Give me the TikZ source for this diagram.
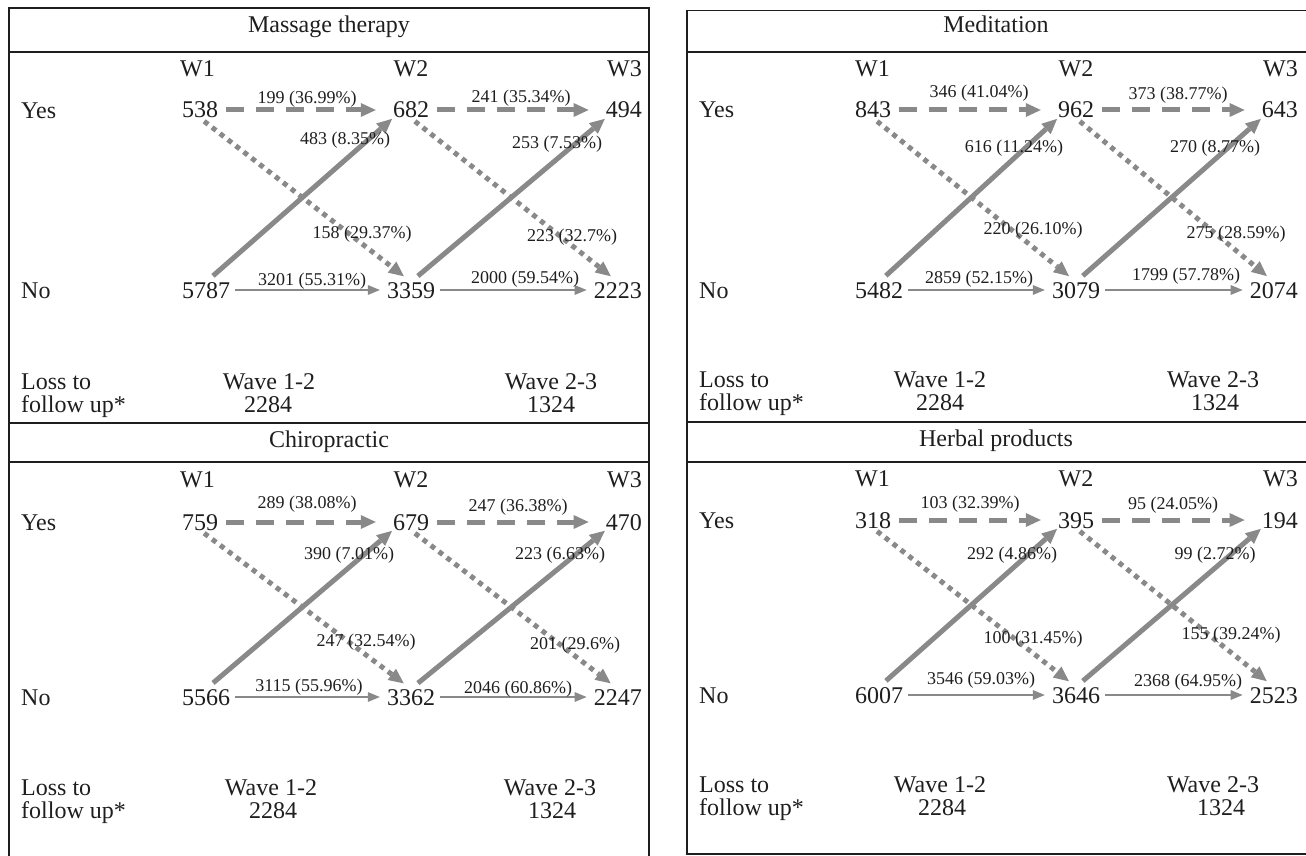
\documentclass[tikz,border=0pt]{standalone}
\usepackage{fontspec}
\setmainfont{Liberation Serif}
\usetikzlibrary{arrows.meta,calc}
\definecolor{arrowgray}{RGB}{137,137,137}
\definecolor{ink}{RGB}{30,30,30}
\tikzset{
  big/.style={font=\fontsize{24}{22}\selectfont, inner sep=0pt, text=ink, text height=16pt, text depth=0pt},
  lab/.style={font=\fontsize{18}{20}\selectfont, inner sep=0pt, text=ink, text height=12pt, text depth=0pt},
  frame/.style={line width=1.5pt, draw=ink},
  bigtip/.style={-{Triangle[length=15pt,width=14pt,line width=0pt]}},
  yy/.style={draw=arrowgray, line width=5pt, dash pattern=on 18pt off 12pt, bigtip, shorten <=8pt, shorten >=17pt},
  yn/.style={draw=arrowgray, line width=5pt, dash pattern=on 5pt off 5pt, bigtip, shorten <=5pt, shorten >=9pt},
  ny/.style={draw=arrowgray, line width=5pt, bigtip, shorten <=9pt, shorten >=1pt},
  nn/.style={draw=arrowgray, line width=2pt, -{Triangle[length=12pt,width=10pt,line width=0pt]}, shorten <=5pt, shorten >=7pt},
}
\begin{document}
\begin{tikzpicture}[x=1pt,y=-1pt]
\useasboundingbox (0,0) rectangle (1306,856);
% ---------- frames ----------
\draw[frame] (649,856) -- (649,8) -- (9,8) -- (9,856);
\draw[frame] (9,52) -- (649,52);
\draw[frame] (9,423) -- (649,423);
\draw[frame] (9,462) -- (649,462);
\draw[frame] (1306,10.5) -- (687,10.5) -- (687,854) -- (1306,854);
\draw[frame] (687,52) -- (1306,52);
\draw[frame] (687,422) -- (1306,422);
\draw[frame] (687,462) -- (1306,462);

% ================= Massage therapy =================
\node[big] (mT) at (329,25) {Massage therapy};
\node[big, anchor=west] (mW1) at (180,69) {W1};
\node[big] (mW2) at (411,69) {W2};
\node[big, anchor=east] (mW3) at (642,69) {W3};
\node[big, anchor=west] (mYes) at (21,111) {Yes};
\node[big, anchor=west] (mNo) at (21,290) {No};
\node[big, anchor=west] (m538) at (182,110) {538};
\node[big] (m682) at (411,110) {682};
\node[big, anchor=east] (m494) at (642,110) {494};
\node[big, anchor=west] (m5787) at (182,290) {5787};
\node[big] (m3359) at (411,290) {3359};
\node[big, anchor=east] (m2223) at (642,290) {2223};
\draw[yn] (m538.south) -- (m3359.north);
\draw[yn] (m682.south) -- (m2223.north);
\draw[ny] (m5787.north) -- (m682.south west);
\draw[ny] (m3359.north) -- (m494.south west);
\draw[yy] (m538.east) -- (m682.west);
\draw[yy] (m682.east) -- (m494.west);
\draw[nn] (m5787.east) -- (m3359.west);
\draw[nn] (m3359.east) -- (m2223.west);
\node[lab] (mL1) at (307,98) {199 (36.99\%)};
\node[lab] (mL2) at (521,97) {241 (35.34\%)};
\node[lab] (mL3) at (345,138) {483 (8.35\%)};
\node[lab] (mL4) at (557,142) {253 (7.53\%)};
\node[lab] (mL5) at (362,232) {158 (29.37\%)};
\node[lab] (mL6) at (572,235) {223 (32.7\%)};
\node[lab] (mL7) at (312,279) {3201 (55.31\%)};
\node[lab] (mL8) at (525,277) {2000 (59.54\%)};
\node[big, anchor=west] (mLa) at (21,381) {Loss to};
\node[big, anchor=west] (mLb) at (21,404) {follow up*};
\node[big] (mWa) at (269,381) {Wave 1-2};
\node[big] (mWb) at (268,404) {2284};
\node[big] (mWc) at (551,381) {Wave 2-3};
\node[big] (mWd) at (551,404) {1324};

% ================= Meditation =================
\node[big] (dT) at (996,25) {Meditation};
\node[big, anchor=west] (dW1) at (855,69) {W1};
\node[big] (dW2) at (1076,69) {W2};
\node[big, anchor=east] (dW3) at (1298,69) {W3};
\node[big, anchor=west] (dYes) at (699,110) {Yes};
\node[big, anchor=west] (dNo) at (699,290) {No};
\node[big, anchor=west] (d843) at (855,110) {843};
\node[big] (d962) at (1076,110) {962};
\node[big, anchor=east] (d643) at (1298,110) {643};
\node[big, anchor=west] (d5482) at (855,290) {5482};
\node[big] (d3079) at (1076,290) {3079};
\node[big, anchor=east] (d2074) at (1298,290) {2074};
\draw[yn] (d843.south) -- (d3079.north);
\draw[yn] (d962.south) -- (d2074.north);
\draw[ny] (d5482.north) -- (d962.south west);
\draw[ny] (d3079.north) -- (d643.south west);
\draw[yy] (d843.east) -- (d962.west);
\draw[yy] (d962.east) -- (d643.west);
\draw[nn] (d5482.east) -- (d3079.west);
\draw[nn] (d3079.east) -- (d2074.west);
\node[lab] (dL1) at (979,92) {346 (41.04\%)};
\node[lab] (dL2) at (1178,94) {373 (38.77\%)};
\node[lab] (dL3) at (1014,147) {616 (11.24\%)};
\node[lab] (dL4) at (1215,147) {270 (8.77\%)};
\node[lab] (dL5) at (1033,228) {220 (26.10\%)};
\node[lab] (dL6) at (1236,232) {275 (28.59\%)};
\node[lab] (dL7) at (979,277) {2859 (52.15\%)};
\node[lab] (dL8) at (1186,274) {1799 (57.78\%)};
\node[big, anchor=west] (dLa) at (699,379) {Loss to};
\node[big, anchor=west] (dLb) at (699,402) {follow up*};
\node[big] (dWa) at (940,379) {Wave 1-2};
\node[big] (dWb) at (940,402) {2284};
\node[big] (dWc) at (1213,379) {Wave 2-3};
\node[big] (dWd) at (1215,402) {1324};

% ================= Chiropractic =================
\node[big] (cT) at (329,439) {Chiropractic};
\node[big, anchor=west] (cW1) at (180,479) {W1};
\node[big] (cW2) at (411,479) {W2};
\node[big, anchor=east] (cW3) at (642,479) {W3};
\node[big, anchor=west] (cYes) at (21,522) {Yes};
\node[big, anchor=west] (cNo) at (21,697) {No};
\node[big, anchor=west] (c759) at (182,522) {759};
\node[big] (c679) at (411,522) {679};
\node[big, anchor=east] (c470) at (642,522) {470};
\node[big, anchor=west] (c5566) at (182,697) {5566};
\node[big] (c3362) at (411,697) {3362};
\node[big, anchor=east] (c2247) at (642,697) {2247};
\draw[yn] (c759.south) -- (c3362.north);
\draw[yn] (c679.south) -- (c2247.north);
\draw[ny] (c5566.north) -- (c679.south west);
\draw[ny] (c3362.north) -- (c470.south west);
\draw[yy] (c759.east) -- (c679.west);
\draw[yy] (c679.east) -- (c470.west);
\draw[nn] (c5566.east) -- (c3362.west);
\draw[nn] (c3362.east) -- (c2247.west);
\node[lab] (cL1) at (307,502) {289 (38.08\%)};
\node[lab] (cL2) at (518,505) {247 (36.38\%)};
\node[lab] (cL3) at (349,553) {390 (7.01\%)};
\node[lab] (cL4) at (560,553) {223 (6.63\%)};
\node[lab] (cL5) at (366,640) {247 (32.54\%)};
\node[lab] (cL6) at (575,643) {201 (29.6\%)};
\node[lab] (cL7) at (309,685) {3115 (55.96\%)};
\node[lab] (cL8) at (518,687) {2046 (60.86\%)};
\node[big, anchor=west] (cLa) at (21,787) {Loss to};
\node[big, anchor=west] (cLb) at (21,810) {follow up*};
\node[big] (cWa) at (271,787) {Wave 1-2};
\node[big] (cWb) at (273,810) {2284};
\node[big] (cWc) at (550,787) {Wave 2-3};
\node[big] (cWd) at (552,810) {1324};

% ================= Herbal products =================
\node[big] (hT) at (996,438) {Herbal products};
\node[big, anchor=west] (hW1) at (855,478) {W1};
\node[big] (hW2) at (1076,478) {W2};
\node[big, anchor=east] (hW3) at (1298,478) {W3};
\node[big, anchor=west] (hYes) at (699,520) {Yes};
\node[big, anchor=west] (hNo) at (699,695) {No};
\node[big, anchor=west] (h318) at (855,520) {318};
\node[big] (h395) at (1076,520) {395};
\node[big, anchor=east] (h194) at (1298,520) {194};
\node[big, anchor=west] (h6007) at (855,695) {6007};
\node[big] (h3646) at (1076,695) {3646};
\node[big, anchor=east] (h2523) at (1298,695) {2523};
\draw[yn] (h318.south) -- (h3646.north);
\draw[yn] (h395.south) -- (h2523.north);
\draw[ny] (h6007.north) -- (h395.south west);
\draw[ny] (h3646.north) -- (h194.south west);
\draw[yy] (h318.east) -- (h395.west);
\draw[yy] (h395.east) -- (h194.west);
\draw[nn] (h6007.east) -- (h3646.west);
\draw[nn] (h3646.east) -- (h2523.west);
\node[lab] (hL1) at (970,502) {103 (32.39\%)};
\node[lab] (hL2) at (1173,503) {95 (24.05\%)};
\node[lab] (hL3) at (1012,553) {292 (4.86\%)};
\node[lab] (hL4) at (1215,553) {99 (2.72\%)};
\node[lab] (hL5) at (1033,637) {100 (31.45\%)};
\node[lab] (hL6) at (1231,633) {155 (39.24\%)};
\node[lab] (hL7) at (981,678) {3546 (59.03\%)};
\node[lab] (hL8) at (1188,680) {2368 (64.95\%)};
\node[big, anchor=west] (hLa) at (699,784) {Loss to};
\node[big, anchor=west] (hLb) at (699,807) {follow up*};
\node[big] (hWa) at (940,784) {Wave 1-2};
\node[big] (hWb) at (942,807) {2284};
\node[big] (hWc) at (1213,784) {Wave 2-3};
\node[big] (hWd) at (1221,807) {1324};
\end{tikzpicture}
\end{document}
